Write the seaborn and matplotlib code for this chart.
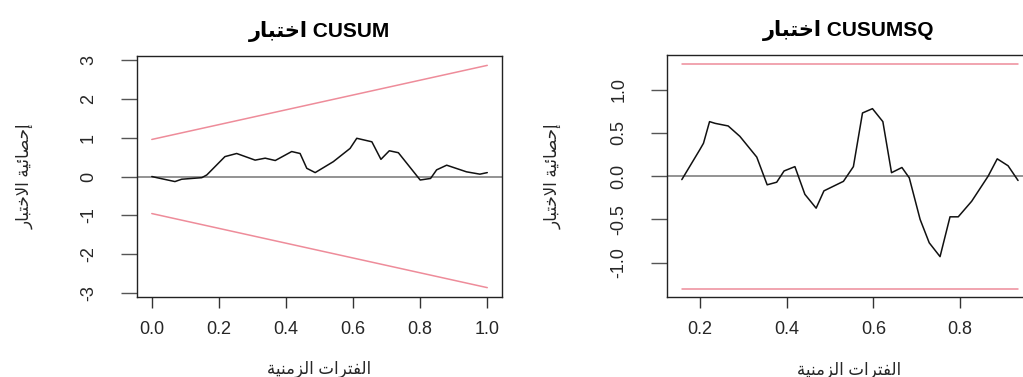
import numpy as np
import pandas as pd
import matplotlib
matplotlib.use("Agg")
import matplotlib.pyplot as plt
import seaborn as sns

# ---------------- data ----------------
cusum_t = [0.0, 0.015, 0.069, 0.089, 0.149, 0.164, 0.218, 0.253, 0.308, 0.338,
           0.368, 0.417, 0.442, 0.462, 0.487, 0.541, 0.591, 0.611, 0.656, 0.683,
           0.708, 0.735, 0.800, 0.831, 0.849, 0.879, 0.938, 0.978, 1.0]
cusum_v = [0.0, -0.03, -0.13, -0.07, -0.03, 0.04, 0.51, 0.59, 0.42, 0.47,
           0.41, 0.64, 0.59, 0.21, 0.10, 0.38, 0.72, 0.98, 0.89, 0.44,
           0.66, 0.61, -0.09, -0.05, 0.17, 0.29, 0.12, 0.06, 0.10]
cusum_bound_t = [0.0, 1.0]
cusum_upper = [0.95, 2.85]
cusum_lower = [-0.95, -2.85]

cusumsq_t = [0.158, 0.200, 0.208, 0.222, 0.235, 0.265, 0.292, 0.331, 0.355, 0.377,
             0.394, 0.419, 0.442, 0.468, 0.486, 0.531, 0.554, 0.575, 0.598, 0.622,
             0.642, 0.666, 0.683, 0.708, 0.729, 0.754, 0.777, 0.796, 0.827, 0.865,
             0.886, 0.911, 0.934]
cusumsq_v = [-0.04, 0.31, 0.38, 0.63, 0.61, 0.58, 0.46, 0.22, -0.10, -0.07,
             0.06, 0.11, -0.21, -0.37, -0.17, -0.06, 0.11, 0.73, 0.78, 0.63,
             0.04, 0.10, -0.02, -0.50, -0.77, -0.93, -0.47, -0.47, -0.29, 0.00,
             0.20, 0.12, -0.05]
cusumsq_bound_t = [0.158, 0.934]
cusumsq_upper = [1.30, 1.30]
cusumsq_lower = [-1.30, -1.30]

cusum_yticks = [-3, -2, -1, 0, 1, 2, 3]
cusum_xticks = [0.0, 0.2, 0.4, 0.6, 0.8, 1.0]
cusumsq_yticks = [-1.0, -0.5, 0.0, 0.5, 1.0]
cusumsq_xticks = [0.2, 0.4, 0.6, 0.8]

# Arabic text in presentation forms, visual (left-to-right) order
test_word = "\uFEAD\uFE8E\uFE92\uFE98\uFEA7\uFE8D"                       # اختبار
title_left = test_word + " CUSUM"
title_right = test_word + " CUSUMSQ"
ylabel_txt = "\uFEAD\uFE8E\uFE92\uFE98\uFEA7\uFEFB\uFE8D \uFE94\uFEF4\uFE8B\uFE8E\uFEBC\uFEA3\uFE87"  # إحصائية الاختبار
xlabel_txt = "\uFE94\uFEF4\uFEE8\uFEE3\uFEB0\uFEDF\uFE8D \uFE95\uFE8D\uFEAE\uFE98\uFED4\uFEDF\uFE8D"  # الفترات الزمنية

# ---------------- style ----------------
sns.set_style("ticks")
plt.rcParams["font.family"] = ["Liberation Sans", "DejaVu Sans"]
plt.rcParams["axes.unicode_minus"] = False

fig = plt.figure(figsize=(10.23, 3.77), dpi=100)
W, H = 1023.0, 377.0
axL = fig.add_axes([136.7 / W, (H - 297) / H, (501.7 - 136.7) / W, (297 - 56) / H])
axR = fig.add_axes([667.3 / W, (H - 297.3) / H, (1030 - 667.3) / W, (297.3 - 55) / H])

red = "#EE8C9A"
text_col = "#262626"


def style_axes(ax, xticks, yticks, xlim, ylim, ylabfmt, title, ylab_x):
    ax.set_xlim(*xlim)
    ax.set_ylim(*ylim)
    ax.axhline(0, color="#8a8a8a", lw=1.3, zorder=1)
    ax.set_xticks(xticks)
    ax.set_xticklabels([f"{v:.1f}" for v in xticks])
    ax.set_yticks(yticks)
    ax.set_yticklabels([ylabfmt(v) for v in yticks], rotation=90, va="center")
    for s in ax.spines.values():
        s.set_visible(True)
        s.set_color("#222222")
        s.set_linewidth(1.0)
    ax.tick_params(axis="x", length=8, width=1.0, color="#333333",
                   labelsize=13, labelcolor=text_col, pad=9)
    ax.tick_params(axis="y", length=11.5, width=1.0, color="#555555",
                   labelsize=13, labelcolor=text_col, pad=17)
    ax.set_title(title, fontsize=15, fontweight="bold", color="black", pad=14)
    ax.set_xlabel(xlabel_txt, fontsize=12, color=text_col)
    ax.set_ylabel(ylabel_txt, fontsize=12, color=text_col)
    ax.xaxis.set_label_coords(0.5, -0.30)
    ax.xaxis.label.set_va("center")
    ax.yaxis.set_label_coords(ylab_x, 0.5)
    ax.yaxis.label.set_va("center")


# ---------------- left: CUSUM ----------------
dfL = pd.DataFrame({"t": cusum_t, "v": cusum_v})
bL = pd.DataFrame({"t": cusum_bound_t, "up": cusum_upper, "lo": cusum_lower})
sns.lineplot(data=bL, x="t", y="up", ax=axL, color=red, lw=1.1, zorder=2)
sns.lineplot(data=bL, x="t", y="lo", ax=axL, color=red, lw=1.1, zorder=2)
sns.lineplot(data=dfL, x="t", y="v", ax=axL, color="#111111", lw=1.1, zorder=3)
style_axes(axL, cusum_xticks, cusum_yticks, (-0.045, 1.043), (-3.09, 3.09),
           lambda v: f"{v:d}", title_left, -0.306)

# ---------------- right: CUSUMSQ ----------------
dfR = pd.DataFrame({"t": cusumsq_t, "v": cusumsq_v})
bR = pd.DataFrame({"t": cusumsq_bound_t, "up": cusumsq_upper, "lo": cusumsq_lower})
sns.lineplot(data=bR, x="t", y="up", ax=axR, color=red, lw=1.1, zorder=2)
sns.lineplot(data=bR, x="t", y="lo", ax=axR, color=red, lw=1.1, zorder=2)
sns.lineplot(data=dfR, x="t", y="v", ax=axR, color="#111111", lw=1.1, zorder=3)
style_axes(axR, cusumsq_xticks, cusumsq_yticks, (0.1245, 0.9616), (-1.40, 1.40),
           lambda v: f"{v:.1f}", title_right, -0.315)

fig.savefig("out.png", dpi=100)
